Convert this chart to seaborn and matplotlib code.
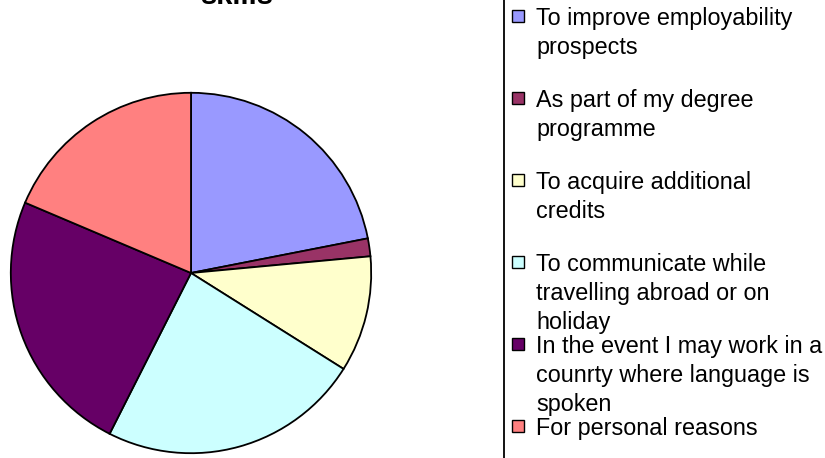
import matplotlib
matplotlib.use("Agg")
import matplotlib.pyplot as plt
from matplotlib.patches import Rectangle
import seaborn as sns

# ---- data ----
categories = [
    "To improve employability\nprospects",
    "As part of my degree\nprogramme",
    "To acquire additional\ncredits",
    "To communicate while\ntravelling abroad or on\nholiday",
    "In the event I may work in a\ncounrty where language is\nspoken",
    "For personal reasons",
]
values = [21.9, 1.6, 10.4, 23.5, 23.9, 18.6]
colors = ["#9999FF", "#993366", "#FFFFCC", "#CCFFFF", "#660066", "#FF8080"]
title = "skills"

sns.set_theme(style="white")
plt.rcParams["font.family"] = ["Liberation Sans", "DejaVu Sans"]

W, H = 825, 458
fig = plt.figure(figsize=(W / 100, H / 100), dpi=100)
fig.patch.set_facecolor("white")

# pie placement (pixels)
cx, cy, r = 191, 273, 182
ax = fig.add_axes([(cx - r) / W, (H - cy - r) / H, 2 * r / W, 2 * r / H])
ax.pie(values, colors=colors, startangle=90, counterclock=False,
       wedgeprops=dict(edgecolor="black", linewidth=1.3))
ax.set_xlim(-1.01, 1.01)
ax.set_ylim(-1.01, 1.01)
ax.set_aspect("equal")
ax.axis("off")

# title (partly cut off at top, as in the reference)
fig.text(237 / W, 1 - 4 / H, title, ha="center", va="baseline",
         fontsize=21, fontweight="bold", color="black")

# legend frame (left edge visible)
fig.patches.append(Rectangle((503.5 / W, -10 / H), 400 / W, (H + 20) / H,
                             transform=fig.transFigure, facecolor="none",
                             edgecolor="black", linewidth=1.3))

y0, step = 16, 82
msize = 12
for i, (lab, col) in enumerate(zip(categories, colors)):
    yc = y0 + i * step
    fig.patches.append(Rectangle((512 / W, 1 - (yc + msize / 2) / H), msize / W, msize / H,
                                 transform=fig.transFigure, facecolor=col,
                                 edgecolor="black", linewidth=1.0))
    fig.text(536 / W, 1 - (yc - 9) / H, lab, ha="left", va="top",
             fontsize=16.8, color="black", linespacing=1.32)

fig.savefig("out.png", dpi=100)
